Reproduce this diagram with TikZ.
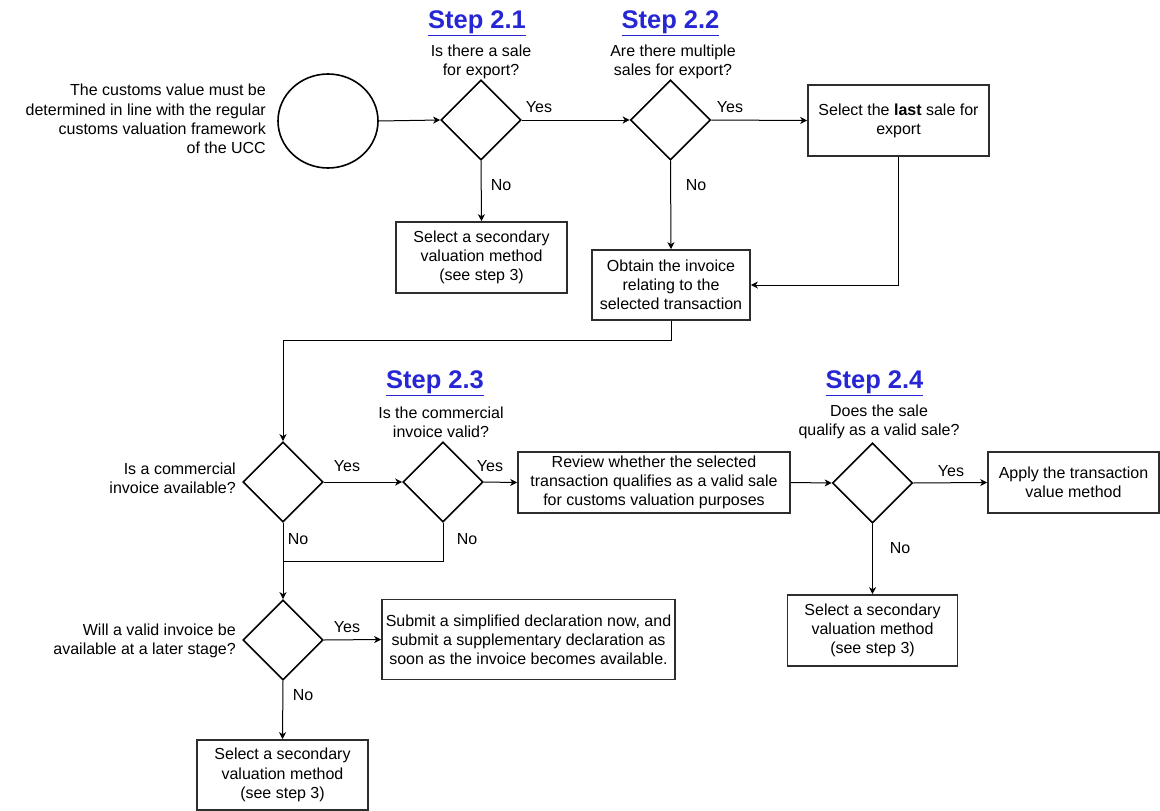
\documentclass[tikz,border=0pt]{standalone}
\usepackage{fontspec}
\setmainfont{Liberation Sans}
\usetikzlibrary{shapes.geometric,arrows.meta,calc}
\definecolor{stepblue}{RGB}{38,38,212}
\definecolor{boxline}{RGB}{45,45,45}
\begin{document}
\begin{tikzpicture}[x=1pt,y=1pt,
  txt/.style={font=\fontsize{16}{19.2}\selectfont, inner sep=0, align=center},
  steptitle/.style={font=\fontsize{25.5}{30}\selectfont\bfseries, text=stepblue, inner sep=0},
  box/.style={draw=boxline, line width=1.6, inner sep=0, align=center, font=\fontsize{16}{19.2}\selectfont},
  dia/.style={diamond, draw, line width=1.6, minimum width=80, minimum height=80, inner sep=0, aspect=1},
  conn/.style={line width=1},
  arr/.style={conn, -{Stealth[length=7,width=7,inset=2]}}]
\useasboundingbox (0,0) rectangle (1160,-811);

% start
\node[txt, align=right, anchor=east] (l0) at (266,-119) {The customs value must be\\determined in line with the regular\\customs valuation framework\\of the UCC};
\node[ellipse, draw, line width=1.6, minimum width=100, minimum height=94, inner sep=0] (c0) at (328,-121) {};

% Step 2.1
\node[steptitle] (s1) at (477,-23) {\underline{Step 2.1}};
\node[txt] (q1) at (481,-62) {Is there a sale\\for export?};
\node[dia] (d1) at (481,-120) {};
\node[box, minimum width=171, minimum height=71] (b1) at (481.5,-257.5) {Select a secondary\\valuation method\\(see step 3)};

% Step 2.2
\node[steptitle] (s2) at (670.5,-23) {\underline{Step 2.2}};
\node[txt] (q2) at (673,-62) {Are there multiple\\sales for export?};
\node[dia] (d2) at (670.5,-120) {};
\node[box, minimum width=181, minimum height=71] (b2) at (898.5,-120.5) {Select the \textbf{last} sale for\\export};
\node[box, minimum width=158, minimum height=70] (b3) at (671,-285) {Obtain the invoice\\relating to the\\selected transaction};

% Step 2.3
\node[steptitle] (s3) at (435,-383) {\underline{Step 2.3}};
\node[txt] (q3) at (441,-422) {Is the commercial\\invoice valid?};
\node[dia] (d3) at (283,-482) {};
\node[txt, align=right, anchor=east] (l3) at (236,-478) {Is a commercial\\invoice available?};
\node[dia] (d4) at (443,-482) {};
\node[box, minimum width=272, minimum height=61] (rev) at (654,-482.5) {Review whether the selected\\transaction qualifies as a valid sale\\for customs valuation purposes};
\coordinate (j) at (283,-561);
\node[dia] (d6) at (283,-640) {};
\node[txt, align=right, anchor=east] (l6) at (236,-641) {Will a valid invoice be\\available at a later stage?};
\node[box, minimum width=293, minimum height=80] (sub) at (528.5,-639.5) {Submit a simplified declaration now, and\\submit a supplementary declaration as\\soon as the invoice becomes available.};
\node[box, minimum width=171, minimum height=70] (b6) at (282.5,-775) {Select a secondary\\valuation method\\(see step 3)};

% Step 2.4
\node[steptitle] (s4) at (874.5,-383) {\underline{Step 2.4}};
\node[txt] (q4) at (879,-422) {Does the sale\\qualify as a valid sale?};
\node[dia] (d5) at (872.5,-483) {};
\node[box, minimum width=171, minimum height=61] (app) at (1073.5,-482.5) {Apply the transaction\\value method};
\node[box, minimum width=170, minimum height=71] (b5) at (872.5,-630.5) {Select a secondary\\valuation method\\(see step 3)};

% labels
\node[txt] (y1) at (539,-107) {Yes};
\node[txt] (n1) at (501,-185) {No};
\node[txt] (y2) at (730,-107) {Yes};
\node[txt] (n2) at (696,-185) {No};
\node[txt] (y3) at (347,-466) {Yes};
\node[txt] (y4) at (490,-466) {Yes};
\node[txt] (n3) at (298,-539) {No};
\node[txt] (n4) at (467,-539) {No};
\node[txt] (y5) at (951,-471) {Yes};
\node[txt] (n5) at (900,-548) {No};
\node[txt] (y6) at (347,-627) {Yes};
\node[txt] (n6) at (303,-695) {No};

% connectors
\draw[arr] (c0.east) -- (d1.west);
\draw[arr] (d1.east) -- (d2.west);
\draw[arr] (d1.south) -- (b1.north);
\draw[arr] (d2.east) -- (b2.west);
\draw[arr] (d2.south) -- (b3.north);
\draw[arr] (b2.south) |- (b3.east);
\draw[arr] (b3.south) -- ++(0,-20) -| (d3.north);
\draw[arr] (d3.east) -- (d4.west);
\draw[arr] (d4.east) -- (rev.west);
\draw[arr] (rev.east) -- (d5.west);
\draw[arr] (d5.east) -- (app.west);
\draw[arr] (d5.south) -- (b5.north);
\draw[arr] (d3.south) -- (d6.north);
\draw[conn] (d4.south) |- (j);
\draw[arr] (d6.east) -- (sub.west);
\draw[arr] (d6.south) -- (b6.north);
\end{tikzpicture}
\end{document}
